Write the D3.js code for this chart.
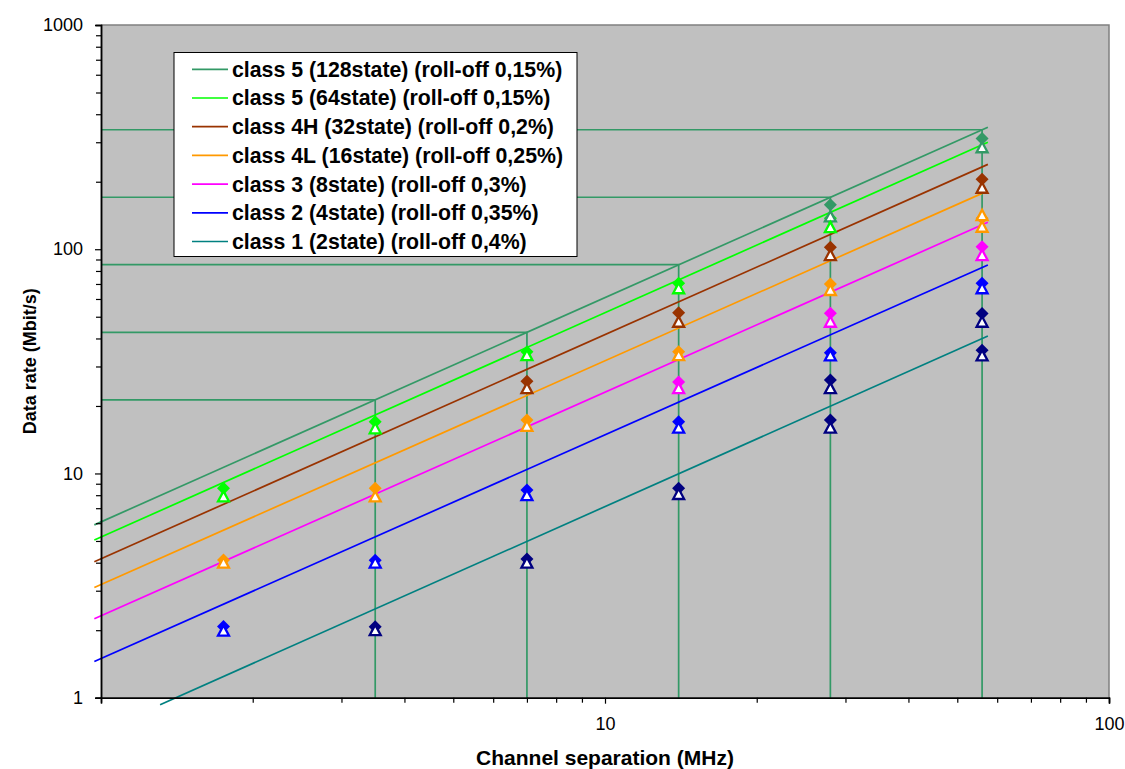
<!DOCTYPE html>
<html>
<head>
<meta charset="utf-8">
<script src="https://cdn.jsdelivr.net/npm/d3@7"></script>
<style>
body { margin: 0; background: #fff; }
svg { font-family: "Liberation Sans", Arial, sans-serif; }
</style>
</head>
<body>
<div id="graph"></div>
<script>
var classNames = [
	"class 5 (128state) (roll-off 0,15%)",
	"class 5 (64state) (roll-off 0,15%)",
	"class 4H (32state) (roll-off 0,2%)",
	"class 4L (16state) (roll-off 0,25%)",
	"class 3 (8state) (roll-off 0,3%)",
	"class 2 (4state) (roll-off 0,35%)",
	"class 1 (2state) (roll-off 0,4%)"
];
var lineColors = ["#339966", "#00FF00", "#993300", "#FF9900", "#FF00FF", "#0000FF", "#008080"];
var markerColors = ["#339966", "#00FF00", "#993300", "#FF9900", "#FF00FF", "#0000FF", "#000080"];

// straight line per class: start and end point
var lineStartX = [0.97, 0.97, 0.97, 0.97, 0.97, 0.97, 1.31];
var lineStartY = [5.9, 5.05, 4.04, 3.1, 2.25, 1.45, 0.93];
var lineEndX = [57.5, 57.5, 57.5, 56, 57.5, 57.5, 57.5];
var lineEndY = [350, 300, 239, 177.5, 131.8, 85.1, 41.0];

// drop lines from the top class line
var dropX = [3.5, 7, 14, 28, 56];
var dropY = [21.3, 42.6, 85.3, 170.5, 341];

// filled diamonds
var diamondX = [
	[28, 56],
	[1.75, 3.5, 7, 14, 28],
	[7, 14, 28, 56],
	[1.75, 3.5, 7, 14, 28, 56],
	[14, 28, 56],
	[1.75, 3.5, 7, 14, 28, 56],
	[3.5, 7, 14, 28, 28, 56, 56]
];
var diamondY = [
	[158, 312],
	[8.6, 17, 34.9, 70.5, 137.5],
	[25.8, 52.1, 102, 205],
	[4.11, 8.6, 17.3, 34.9, 70, 137.5],
	[25.6, 51.8, 102.6],
	[2.08, 4.1, 8.43, 17, 34.5, 70.5],
	[2.07, 4.15, 8.6, 17.3, 26.1, 35.4, 51.7]
];

// open triangles
var triangleX = [
	[28, 56],
	[1.75, 3.5, 7, 14, 28],
	[7, 14, 28, 56],
	[1.75, 3.5, 7, 14, 28, 56, 56],
	[14, 28, 56],
	[1.75, 3.5, 7, 14, 28, 56],
	[3.5, 7, 14, 28, 28, 56, 56]
];
var triangleY = [
	[140, 285],
	[7.9, 15.9, 33.7, 67, 125.4],
	[24, 47.5, 94.2, 188],
	[4, 7.9, 16.3, 33.7, 65.8, 142, 126],
	[24, 47.5, 94.2],
	[1.99, 4, 8, 16, 33.6, 67],
	[2, 4, 8.1, 16, 24, 33.6, 47.5]
];

var xMajor = [10, 100];
var yMajor = [1, 10, 100, 1000];

var width = 1125, height = 769;
var pLeft = 101, pRight = 1109, pTop = 25, pBottom = 697.7;

var svg = d3.select("#graph").append("svg")
	.attr("width", width)
	.attr("height", height);

var x = d3.scaleLog().domain([1, 100]).range([pLeft, pRight]);
var y = d3.scaleLog().domain([1, 1000]).range([pBottom, pTop]);

svg.append("rect")
	.attr("x", pLeft).attr("y", pTop)
	.attr("width", pRight - pLeft).attr("height", pBottom - pTop)
	.style("fill", "#C0C0C0");

// drop lines
dropX.forEach(function(d, i) {
	svg.append("path")
		.attr("d", "M" + x(1) + "," + y(dropY[i]) + "H" + x(d) + "V" + y(1))
		.style("fill", "none")
		.style("stroke", "#339966")
		.style("stroke-width", 1.7);
});

// class lines
var line = d3.line()
	.x(function(d) { return x(d[0]); })
	.y(function(d) { return y(d[1]); });

classNames.forEach(function(c, i) {
	svg.append("path")
		.datum([[lineStartX[i], lineStartY[i]], [lineEndX[i], lineEndY[i]]])
		.attr("d", line)
		.style("fill", "none")
		.style("stroke", lineColors[i])
		.style("stroke-width", 1.7);
});

var diamondPath = "M0,-6.5L6.5,0L0,6.5L-6.5,0Z";
var trianglePath = "M0,-5.3L5.5,5L-5.5,5Z";

classNames.forEach(function(c, i) {
	svg.append("g").selectAll("path")
		.data(diamondX[i])
		.enter().append("path")
		.attr("transform", function(d, k) { return "translate(" + x(d) + "," + y(diamondY[i][k]) + ")"; })
		.attr("d", diamondPath)
		.style("fill", markerColors[i]);
});

classNames.forEach(function(c, i) {
	svg.append("g").selectAll("path")
		.data(triangleX[i])
		.enter().append("path")
		.attr("transform", function(d, k) { return "translate(" + x(d) + "," + y(triangleY[i][k]) + ")"; })
		.attr("d", trianglePath)
		.style("fill", "#fff")
		.style("stroke", markerColors[i])
		.style("stroke-width", 2.3);
});

// right and top border stays gray
svg.append("path")
	.attr("d", "M" + pLeft + "," + pTop + "H" + pRight + "V" + pBottom)
	.style("fill", "none")
	.style("stroke", "#808080")
	.style("stroke-width", 1.5);

// axes
var xMinor = [];
var yMinor = [];
[1, 10].forEach(function(p) { for (var k = 2; k < 10; k++) xMinor.push(k * p); });
[1, 10, 100].forEach(function(p) { for (var k = 2; k < 10; k++) yMinor.push(k * p); });

svg.append("g")
	.attr("transform", "translate(0," + pBottom + ")")
	.call(d3.axisBottom(x).tickValues(xMinor).tickSize(5).tickFormat(""));
svg.append("g")
	.attr("class", "x axis")
	.attr("transform", "translate(0," + pBottom + ")")
	.call(d3.axisBottom(x).tickValues(xMajor).tickSize(6).tickPadding(14).tickFormat(d3.format("d")));

svg.append("g")
	.attr("transform", "translate(" + pLeft + ",0)")
	.call(d3.axisLeft(y).tickValues(yMinor).tickSize(5).tickFormat(""));
svg.append("g")
	.attr("class", "y axis")
	.attr("transform", "translate(" + pLeft + ",0)")
	.call(d3.axisLeft(y).tickValues(yMajor).tickSize(6).tickPadding(12).tickFormat(d3.format("d")));

svg.selectAll(".domain").style("stroke", "#000").style("stroke-width", 1.5);
svg.selectAll(".tick line").style("stroke", "#000").style("stroke-width", 1.2);
svg.selectAll(".tick text").style("font-size", "18px").style("fill", "#000");

svg.append("text")
	.attr("x", (pLeft + pRight) / 2)
	.attr("y", 765)
	.attr("text-anchor", "middle")
	.style("font-size", "21px")
	.style("font-weight", "bold")
	.text("Channel separation (MHz)");

svg.append("text")
	.attr("transform", "translate(36," + (pTop + pBottom) / 2 + ") rotate(-90)")
	.attr("text-anchor", "middle")
	.style("font-size", "18px")
	.style("font-weight", "bold")
	.text("Data rate (Mbit/s)");

// legend
var legend = svg.append("g");
legend.append("rect")
	.attr("x", 174).attr("y", 52.5)
	.attr("width", 403).attr("height", 204)
	.style("fill", "#fff")
	.style("stroke", "#000")
	.style("stroke-width", 1);

classNames.forEach(function(c, i) {
	var ly = 69.3 + i * 28.7;
	legend.append("line")
		.attr("x1", 192).attr("x2", 228)
		.attr("y1", ly).attr("y2", ly)
		.style("stroke", lineColors[i])
		.style("stroke-width", 1.7);
	legend.append("text")
		.attr("x", 232)
		.attr("y", ly)
		.attr("dy", "0.35em")
		.style("font-size", "21.3px")
		.style("font-weight", "bold")
		.text(c);
});
</script>
</body>
</html>
